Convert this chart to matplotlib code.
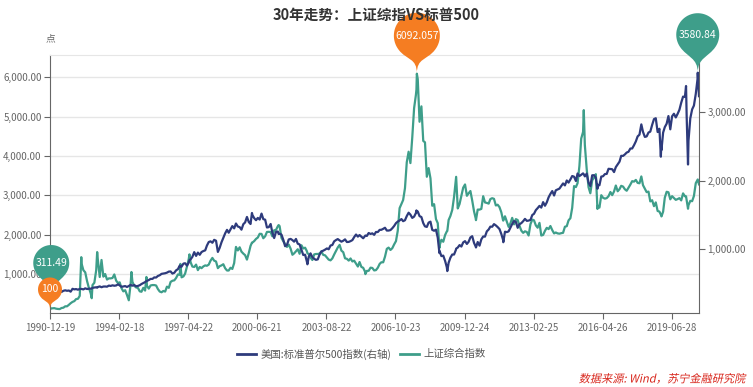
import numpy as np
import pandas as pd
import matplotlib
matplotlib.use("Agg")
import matplotlib.pyplot as plt
import matplotlib.dates as mdates
from matplotlib.path import Path
from matplotlib.patches import PathPatch
from matplotlib.textpath import TextPath
from matplotlib.font_manager import FontProperties
from matplotlib.transforms import Affine2D, ScaledTranslation

plt.rcParams["font.family"] = ["Noto Sans CJK SC", "DejaVu Sans"]

# month-end closes, 1991-01 .. 2020-08
sse_monthly = [
    129, 134, 120, 113, 110, 137, 145, 180, 180, 218, 259, 292,
    313, 364, 371, 445, 1266, 1099, 1044, 820, 650, 510, 720, 780,
    1100, 1358, 925, 1358, 934, 1000, 860, 890, 890, 900, 990, 833,
    770, 790, 640, 560, 590, 470, 333, 760, 800, 700, 660, 647,
    560, 550, 650, 580, 700, 630, 710, 720, 720, 710, 620, 555,
    537, 570, 555, 680, 650, 800, 830, 840, 900, 990, 980, 917,
    940, 1010, 1190, 1380, 1300, 1190, 1180, 1240, 1100, 1180, 1150, 1194,
    1220, 1210, 1240, 1340, 1410, 1340, 1320, 1150, 1200, 1220, 1250, 1147,
    1090, 1090, 1160, 1130, 1280, 1690, 1600, 1680, 1570, 1520, 1480, 1367,
    1535, 1715, 1800, 1837, 1894, 1928, 2023, 2020, 1910, 1960, 2070, 2073,
    2066, 1960, 2112, 2120, 2214, 2218, 1920, 1834, 1764, 1690, 1748, 1646,
    1490, 1525, 1580, 1630, 1515, 1733, 1650, 1670, 1580, 1507, 1420, 1357,
    1500, 1510, 1510, 1520, 1576, 1487, 1476, 1421, 1367, 1348, 1397, 1497,
    1590, 1675, 1741, 1595, 1555, 1400, 1387, 1342, 1396, 1320, 1340, 1266,
    1191, 1306, 1181, 1159, 1060, 1080, 1083, 1162, 1155, 1092, 1100, 1161,
    1258, 1299, 1299, 1440, 1641, 1672, 1612, 1658, 1752, 1837, 2099, 2675,
    2786, 2881, 3183, 3841, 4109, 3820, 4471, 5218, 5552, 5954, 4871, 5262,
    4383, 4348, 3473, 3693, 3433, 2736, 2775, 2397, 2293, 1729, 1871, 1821,
    1991, 2082, 2373, 2477, 2632, 2959, 3412, 2667, 2779, 2996, 3195, 3277,
    2989, 3051, 3110, 2870, 2592, 2398, 2638, 2638, 2656, 2979, 2820, 2808,
    2790, 2905, 2928, 2911, 2743, 2762, 2701, 2568, 2359, 2468, 2333, 2199,
    2292, 2428, 2262, 2396, 2373, 2225, 2103, 2047, 2086, 2069, 1980, 2269,
    2385, 2366, 2237, 2178, 2301, 1979, 1994, 2098, 2175, 2142, 2221, 2116,
    2033, 2056, 2033, 2026, 2039, 2048, 2202, 2217, 2364, 2420, 2683, 3235,
    3210, 3310, 3748, 4442, 4612, 4277, 3664, 3206, 3053, 3383, 3445, 3539,
    2738, 2688, 3004, 2938, 2917, 2930, 2979, 3085, 3005, 3100, 3250, 3104,
    3159, 3242, 3223, 3155, 3117, 3192, 3273, 3361, 3349, 3393, 3317, 3307,
    3481, 3259, 3169, 3082, 3095, 2847, 2876, 2725, 2821, 2603, 2588, 2494,
    2585, 2941, 3091, 3078, 2899, 2979, 2933, 2886, 2905, 2929, 2872, 3050,
    2977, 2880, 2750, 2860, 2852, 2985, 3310, 3396,
]
spx_monthly = [
    344, 367, 375, 375, 390, 371, 388, 395, 388, 392, 375, 417,
    409, 413, 404, 415, 415, 408, 424, 414, 418, 419, 431, 436,
    439, 443, 452, 440, 450, 451, 448, 464, 459, 468, 462, 466,
    482, 467, 446, 451, 457, 444, 458, 475, 463, 472, 454, 459,
    470, 487, 501, 515, 533, 545, 562, 562, 584, 582, 605, 616,
    636, 640, 645, 654, 669, 671, 640, 652, 687, 705, 757, 741,
    786, 791, 757, 801, 848, 885, 954, 899, 947, 915, 955, 970,
    980, 1049, 1102, 1112, 1091, 1134, 1121, 957, 1017, 1099, 1164, 1229,
    1280, 1238, 1286, 1335, 1302, 1373, 1329, 1320, 1283, 1363, 1389, 1469,
    1394, 1366, 1499, 1452, 1421, 1455, 1431, 1518, 1437, 1429, 1315, 1320,
    1366, 1240, 1160, 1249, 1256, 1224, 1211, 1134, 1041, 1060, 1139, 1148,
    1130, 1107, 1147, 1077, 1067, 990, 912, 916, 815, 886, 936, 880,
    856, 841, 848, 917, 964, 975, 990, 1008, 996, 1051, 1058, 1112,
    1131, 1145, 1126, 1107, 1121, 1141, 1102, 1104, 1115, 1130, 1174, 1212,
    1181, 1204, 1181, 1157, 1192, 1191, 1234, 1220, 1229, 1207, 1249, 1248,
    1280, 1281, 1295, 1311, 1270, 1270, 1277, 1304, 1336, 1378, 1401, 1418,
    1438, 1407, 1421, 1482, 1531, 1503, 1455, 1474, 1527, 1549, 1481, 1468,
    1379, 1331, 1323, 1386, 1400, 1280, 1267, 1283, 1166, 969, 896, 903,
    826, 735, 798, 873, 919, 919, 987, 1021, 1057, 1036, 1096, 1115,
    1074, 1104, 1169, 1187, 1089, 1031, 1102, 1049, 1141, 1183, 1181, 1258,
    1286, 1327, 1326, 1364, 1345, 1321, 1292, 1219, 1131, 1253, 1247, 1258,
    1312, 1366, 1408, 1398, 1310, 1362, 1379, 1407, 1441, 1412, 1416, 1426,
    1498, 1515, 1569, 1598, 1631, 1606, 1686, 1633, 1682, 1757, 1806, 1848,
    1783, 1859, 1872, 1884, 1924, 1960, 1931, 2003, 1972, 2018, 2068, 2059,
    1995, 2105, 2068, 2086, 2107, 2063, 2104, 1972, 1920, 2079, 2080, 2044,
    1940, 1932, 2060, 2065, 2097, 2099, 2174, 2171, 2168, 2126, 2199, 2239,
    2279, 2364, 2363, 2384, 2412, 2423, 2470, 2472, 2519, 2575, 2648, 2674,
    2824, 2714, 2641, 2648, 2705, 2718, 2816, 2902, 2914, 2712, 2760, 2507,
    2704, 2784, 2834, 2946, 2752, 2942, 2980, 2926, 2977, 3038, 3141, 3231,
    3226, 2954, 2585, 2912, 3044, 3100, 3271, 3500,
]

# single days: first day, peaks, troughs, last day
extra_dates = [
    "1990-12-19", "1991-01-09", "1992-05-26", "1992-11-17", "1993-02-16",
    "1994-09-13", "1995-05-22", "1996-12-11", "1997-05-12", "2000-03-24",
    "2001-06-14", "2002-10-09", "2005-06-06", "2007-10-09", "2007-10-16",
    "2008-10-28", "2009-03-09", "2009-08-04", "2010-07-02", "2011-10-03",
    "2015-06-12", "2016-01-27", "2018-12-24", "2019-01-03", "2020-02-19",
    "2020-03-23", "2020-09-02", "2020-09-23",
]
extra_sse = [
    100, 128, 1429, 386, 1558, 1052, 926, 1258, 1500, 1800,
    2245, 1530, 998, 5690, 6092.057, 1664, 2094, 3471, 2370, 2360,
    5166, 2655, 2510, 2464, 2975, 2660, 3404, 3279,
]
extra_spx = [
    330.2, 311.49, 414, 420, 433, 467, 530, 740, 837, 1527,
    1219, 776, 1197, 1565, 1538, 940, 676.5, 1005, 1022, 1099,
    2094, 1882, 2351, 2448, 3386, 2237, 3580.84, 3237,
]

x_ticks = ["1990-12-19", "1994-02-18", "1997-04-22", "2000-06-21", "2003-08-22",
           "2006-10-23", "2009-12-24", "2013-02-25", "2016-04-26", "2019-06-28"]
left_ticks = [1000, 2000, 3000, 4000, 5000, 6000]
right_ticks = [1000, 2000, 3000]

navy = "#2e3b7c"
teal = "#3e9e8a"
orange = "#f57d22"
grey = "#666666"

month_ends = pd.date_range("1991-02-01", "2020-09-01", freq="MS") - pd.Timedelta(days=1)
df = pd.DataFrame({
    "date": list(month_ends) + list(pd.to_datetime(extra_dates)),
    "sse": sse_monthly + extra_sse,
    "spx": spx_monthly + extra_spx,
}).sort_values("date").reset_index(drop=True)

fig = plt.figure(figsize=(7.53, 3.87), dpi=100)
ax = fig.add_axes([50 / 753, 1 - 313.4 / 387, 649 / 753, 258.4 / 387])
ax2 = ax.twinx()

ax.plot(df["date"], df["sse"], color=teal, lw=1.6, solid_joinstyle="round")
ax2.plot(df["date"], df["spx"], color=navy, lw=1.6, solid_joinstyle="round")

ax.set_xlim(df["date"].iloc[0], df["date"].iloc[-1])
ax.set_ylim(0, 6567)
ax2.set_ylim(57, 3840)

ax.set_yticks(left_ticks)
ax.set_yticklabels([f"{v:,.2f}" for v in left_ticks])
ax2.set_yticks(right_ticks)
ax2.set_yticklabels([f"{v:,.2f}" for v in right_ticks])
ax.set_xticks(pd.to_datetime(x_ticks))
ax.set_xticklabels(x_ticks)

ax.grid(axis="y", color="#e6e6e6", lw=1)
ax.set_axisbelow(True)
ax.spines["right"].set_visible(False)
ax.spines["top"].set_color("#e6e6e6")
for s in ["left", "bottom"]:
    ax.spines[s].set_color(grey)
for s in ["top", "left", "bottom"]:
    ax2.spines[s].set_visible(False)
ax2.spines["right"].set_color(grey)

ax.tick_params(axis="both", colors=grey, labelsize=7, length=4, width=0.8, pad=2)
ax2.tick_params(axis="y", colors=grey, labelsize=7, length=4, width=0.8, pad=2)
ax.tick_params(axis="x", pad=3)


def pin(x, y, data_trans, color, text, r, d, z):
    # balloon marker, tip on the data point, sizes in pixels
    dy = r * r / d
    ang = np.arcsin(dy / r)
    dx = np.cos(ang) * r
    tx, ty = np.sin(ang), np.cos(ang)
    c1, c2 = r * 0.6, r * 0.7
    theta = np.linspace(np.pi + ang, -ang, 50)
    verts = [(r * np.cos(t), d + r * np.sin(t)) for t in theta]
    codes = [Path.MOVETO] + [Path.LINETO] * (len(verts) - 1)
    verts += [(dx - tx * c1, d - dy - ty * c1), (0, c2), (0, 0),
              (0, c2), (-dx + tx * c1, d - dy - ty * c1), (-dx, d - dy),
              (0, 0)]
    codes += [Path.CURVE4] * 6 + [Path.CLOSEPOLY]
    xn = mdates.date2num(x)
    trans = Affine2D() + ScaledTranslation(xn, y, data_trans)
    ax2.add_patch(PathPatch(Path(verts, codes), facecolor=color, edgecolor="none",
                            transform=trans, clip_on=False, zorder=z))
    ax2.annotate(text, (xn, y), xycoords=data_trans, xytext=(0, d * 0.72),
                 textcoords="offset points", ha="center", va="center",
                 color="white", fontsize=7.5, zorder=z + 0.5)


i_smax, i_smin = df["sse"].idxmax(), df["sse"].idxmin()
i_pmax, i_pmin = df["spx"].idxmax(), df["spx"].idxmin()
fmt = lambda v: f"{v:.10g}"
pin(df["date"][i_pmax], df["spx"][i_pmax], ax2.transData, teal, fmt(df["spx"][i_pmax]), 21.5, 38, 10)
pin(df["date"][i_pmin], df["spx"][i_pmin], ax2.transData, teal, fmt(df["spx"][i_pmin]), 18, 33, 10)
pin(df["date"][i_smax], df["sse"][i_smax], ax.transData, orange, fmt(df["sse"][i_smax]), 23, 38, 11)
pin(df["date"][i_smin], df["sse"][i_smin], ax.transData, orange, fmt(df["sse"][i_smin]), 12, 20, 11)

fig.text(0.5, 1 - 15 / 387, "30年走势：上证综指VS标普500", ha="center", va="center",
         fontsize=10.5, fontweight="bold", color="#333333", zorder=20)
fig.text(50 / 753, 1 - 38 / 387, "点", ha="center", va="center", fontsize=7, color=grey)

h1, = ax.plot([], [], color=navy, lw=2)
h2, = ax.plot([], [], color=teal, lw=2)
fig.legend([h1, h2], ["美国:标准普尔500指数(右轴)", "上证综合指数"], loc="center",
           bbox_to_anchor=(0.48, 1 - 354 / 387), ncol=2, frameon=False, fontsize=7.5,
           handlelength=1.8, handletextpad=0.5, columnspacing=0.8, labelcolor="#555555")

# slanted source note (the CJK font has no italic face)
src = TextPath((0, 0), "数据来源: Wind，苏宁金融研究院", size=11.2,
               prop=FontProperties(family="Noto Sans CJK SC"))
x1 = src.get_extents().x1
src_trans = Affine2D().skew_deg(12, 0).translate(747 - x1 - 2, 387 - 378 - 4.5)
fig.add_artist(PathPatch(src, facecolor="#d8261c", edgecolor="none", transform=src_trans))

fig.savefig("out.png", dpi=100)
